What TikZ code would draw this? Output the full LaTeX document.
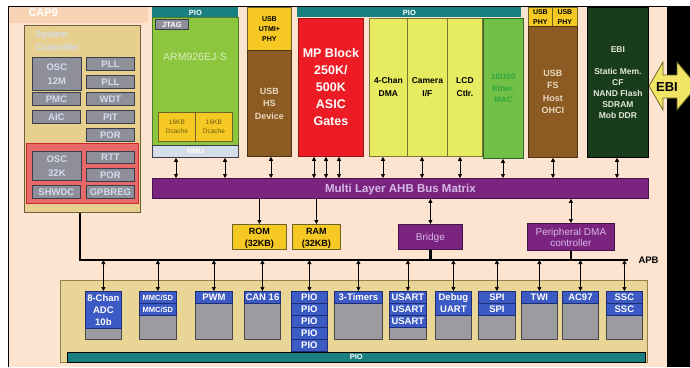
\documentclass[tikz,border=0pt]{standalone}
\usepackage{fontspec}
\setmainfont{Liberation Sans}
\usepackage{tikz}
\usetikzlibrary{arrows.meta,positioning}

\definecolor{chipbg}{RGB}{253,228,208}
\definecolor{chipedge}{RGB}{249,212,180}
\definecolor{systan}{RGB}{231,207,143}
\definecolor{sysline}{RGB}{110,95,60}
\definecolor{batred}{RGB}{232,105,105}
\definecolor{batline}{RGB}{205,40,45}
\definecolor{sgfill}{RGB}{143,143,153}
\definecolor{sgline}{RGB}{60,60,75}
\definecolor{sgtext}{RGB}{212,220,238}
\definecolor{teal}{RGB}{25,128,130}
\definecolor{armgreen}{RGB}{140,198,63}
\definecolor{armline}{RGB}{80,120,40}
\definecolor{armtext}{RGB}{218,238,190}
\definecolor{mmufill}{RGB}{212,222,232}
\definecolor{cacheyel}{RGB}{246,200,35}
\definecolor{cacheline}{RGB}{110,100,40}
\definecolor{cachetext}{RGB}{110,90,20}
\definecolor{usbbrown}{RGB}{140,90,35}
\definecolor{brownline}{RGB}{80,50,20}
\definecolor{usbtext}{RGB}{232,216,190}
\definecolor{mpred}{RGB}{237,28,36}
\definecolor{mpline}{RGB}{150,20,20}
\definecolor{dmayel}{RGB}{230,235,95}
\definecolor{dmaline}{RGB}{120,120,50}
\definecolor{ethgreen}{RGB}{115,192,70}
\definecolor{ethline}{RGB}{50,100,40}
\definecolor{ethtext}{RGB}{45,165,60}
\definecolor{ebigreen}{RGB}{25,60,28}
\definecolor{ebitext}{RGB}{225,232,215}
\definecolor{ahbpurple}{RGB}{122,36,128}
\definecolor{purline}{RGB}{70,20,75}
\definecolor{ahbtext}{RGB}{214,184,230}
\definecolor{arrowyel}{RGB}{242,228,100}
\definecolor{paneltan}{RGB}{233,214,150}
\definecolor{panelline}{RGB}{150,130,80}
\definecolor{perblue}{RGB}{60,90,195}
\definecolor{perbline}{RGB}{30,45,120}
\definecolor{pergray}{RGB}{155,155,160}
\definecolor{perline}{RGB}{70,70,75}

\tikzset{
  area/.style n args={4}{anchor=north west, at={(#1,#2)}, minimum width={(#3)-(#1)}, minimum height={(#4)-(#2)}},
  blk/.style={inner sep=0pt, align=center, line width=0.8pt, text depth=0pt},
  sgbox/.style={blk, draw=sgline, fill=sgfill, text=sgtext, font=\bfseries\fontsize{9.5}{14}\selectfont},
  piobar/.style={blk, fill=teal, text=white, font=\bfseries\fontsize{7.5}{9}\selectfont},
  armbox/.style={blk, draw=armline, fill=armgreen},
  cachebox/.style={blk, draw=cacheline, fill=cacheyel, text=cachetext, font=\fontsize{6.5}{9.5}\selectfont},
  yelbox/.style={blk, draw=cacheline, fill=cacheyel, text=black, font=\bfseries\fontsize{7}{10}\selectfont},
  membox/.style={yelbox, font=\bfseries\fontsize{9}{12}\selectfont},
  brownbox/.style={blk, draw=brownline, fill=usbbrown, text=usbtext, font=\bfseries\fontsize{9}{12.5}\selectfont},
  mpbox/.style={blk, draw=mpline, fill=mpred, text=white, font=\bfseries\fontsize{12.5}{17}\selectfont},
  dmabox/.style={blk, draw=dmaline, fill=dmayel, text=black, font=\bfseries\fontsize{8.5}{13}\selectfont},
  ethbox/.style={blk, draw=ethline, fill=ethgreen, text=ethtext, font=\bfseries\fontsize{8}{11.5}\selectfont},
  ebibox/.style={blk, draw=black, fill=ebigreen, text=ebitext, font=\bfseries\fontsize{8.5}{11}\selectfont},
  purbox/.style={blk, draw=purline, fill=ahbpurple, text=ahbtext, font=\fontsize{10}{11}\selectfont},
  perhead/.style={blk, draw=perbline, fill=perblue, text=white, font=\bfseries\fontsize{9.5}{12}\selectfont},
  perbody/.style={blk, draw=perline, fill=pergray},
  biarrow/.style={{Triangle[length=4pt,width=4pt]}-{Triangle[length=4pt,width=4pt]}, line width=0.7pt},
  downarrow/.style={-{Triangle[length=4pt,width=4pt]}, line width=0.7pt},
  apbline/.style={line width=2.5pt},
}

\begin{document}
\begin{tikzpicture}[x=1pt,y=-1pt]
\pgfmathsetmacro{\pertop}{291}
\pgfmathsetmacro{\rowh}{12}
\useasboundingbox (0,0) rectangle (690,367);
\fill[white] (0,0) rectangle (690,367);
\fill[chipbg] (8,6) rectangle (667,367);
\fill[chipedge] (9,7) rectangle (148,23);
\fill[black] (667,6) rectangle (690,367);
\draw[line width=1pt] (8,367) -- (8,6) -- (667,6);
\node[anchor=west, text=white, font=\bfseries\fontsize{11}{12}\selectfont] (cap) at (25,13) {CAP9};

% system controller
\node[blk, draw=sysline, fill=systan, area={24}{25}{140}{212}] (sysc) {};
\node[blk, draw=batline, fill=batred, area={26}{143}{138}{203}] (bkup) {};
\node[anchor=north west, align=left, text=sgtext, font=\bfseries\fontsize{9}{13}\selectfont] (syslbl) at (32,28) {System\\Controller};
\node[sgbox, area={32}{57}{81}{90}] (osc12) {OSC\\12M};
\node[sgbox, area={86}{57}{134}{70}] (plla) {PLL};
\node[sgbox, area={86}{75}{134}{88}] (pllb) {PLL};
\node[sgbox, area={32}{92}{80}{105}] (pmc) {PMC};
\node[sgbox, area={86}{92}{134}{105}] (wdt) {WDT};
\node[sgbox, area={32}{110}{80}{123}] (aic) {AIC};
\node[sgbox, area={86}{110}{134}{123}] (pit) {PIT};
\node[sgbox, area={86}{128}{134}{141}] (pora) {POR};
\node[sgbox, area={32}{151}{81}{180}] (osc32) {OSC\\32K};
\node[sgbox, area={86}{151}{134}{163}] (rtt) {RTT};
\node[sgbox, area={86}{168}{134}{181}] (porb) {POR};
\node[sgbox, area={32}{185}{80}{198}] (shwdc) {SHWDC};
\node[sgbox, area={86}{185}{134}{198}] (gpbreg) {GPBREG};

% ARM core
\node[piobar, area={152}{7}{238}{17}] (armpio) {PIO};
\node[armbox, area={152}{17}{238}{145}] (arm) {};
\node[text=armtext, font=\fontsize{10.5}{12}\selectfont] (armlbl) at (195,57) {ARM926EJ-S};
\node[sgbox, text=white, font=\bfseries\fontsize{7.5}{9}\selectfont, area={155}{19}{188}{29}] (jtag) {JTAG};
\node[cachebox, area={158}{112}{195}{141}] (icache) {16KB\\Dcache};
\node[cachebox, area={195}{112}{232}{141}] (dcache) {16KB\\Dcache};
\node[blk, draw=sgline, fill=mmufill, text=white, font=\bfseries\fontsize{7}{8}\selectfont, area={152}{145}{238}{157}] (mmu) {MMU};

% masters on top
\node[yelbox, area={247}{7}{291}{50}] (utmi) {USB\\UTMI+\\PHY};
\node[brownbox, area={247}{50}{291}{156}] (usbhs) {USB\\HS\\Device};
\node[piobar, area={297}{7}{521}{17}] (pio) {PIO};
\node[mpbox, area={298}{18}{363}{156}] (mpb) {MP Block\\250K/\\500K\\ASIC\\Gates};
\node[dmabox, area={369}{18}{407}{156}] (dma) {4-Chan\\DMA};
\node[dmabox, area={407}{18}{447}{156}] (cam) {Camera\\I/F};
\node[dmabox, area={447}{18}{482}{156}] (lcd) {LCD\\Ctlr.};
\node[ethbox, area={483}{18}{523}{158}] (eth) {10/100\\Ether.\\MAC};
\node[yelbox, area={528}{7}{552}{26}] (phya) {USB\\PHY};
\node[yelbox, area={552}{7}{577}{26}] (phyb) {USB\\PHY};
\node[brownbox, area={528}{26}{577}{157}] (usbfs) {USB\\FS\\Host\\OHCI};
\node[ebibox, area={587}{7}{648}{157}] (ebi) {EBI\\[11pt]Static Mem.\\CF\\NAND Flash\\SDRAM\\Mob DDR};

% external bus
\draw[fill=arrowyel, draw=cacheline, line width=0.8pt] (649,86) -- (663,62) -- (663,75) -- (677,75) -- (677,62)
  -- (697,86) -- (677,110) -- (677,98) -- (663,98) -- (663,110) -- cycle;
\node[font=\bfseries\fontsize{13}{14}\selectfont] (ebiext) at (667,87) {EBI};

% bus matrix
\node[purbox, font=\bfseries\fontsize{11.5}{13}\selectfont, area={152}{178}{648}{198}] (ahb) {Multi Layer AHB Bus Matrix};
\foreach \x/\blk in {176/mmu, 225/mmu, 271/usbhs, 314/mpb, 326/mpb, 339/mpb, 383/dma, 422/cam, 460/lcd, 503/eth, 553/usbfs, 617/ebi}
  \draw[biarrow] (\x,0 |- \blk.south) -- (\x,0 |- ahb.north);

\node[membox, area={232}{224}{286}{249}] (rom) {ROM\\(32KB)};
\node[membox, area={292}{224}{340}{249}] (ram) {RAM\\(32KB)};
\node[purbox, area={398}{224}{462}{249}] (bridge) {Bridge};
\node[purbox, area={527}{223}{614}{250}] (pdc) {Peripheral DMA\\controller};
\draw[downarrow] (rom.north |- ahb.south) -- (rom.north);
\draw[downarrow] (ram.north |- ahb.south) -- (ram.north);
\draw[biarrow] (bridge.north |- ahb.south) -- (bridge.north);
\draw[biarrow] (pdc.north |- ahb.south) -- (pdc.north);

% APB
\coordinate (apbend) at (628,260);
\draw[apbline] (80,0 |- sysc.south) |- (apbend);
\draw[apbline] (bridge.south) -- (bridge.south |- apbend);
\draw[apbline] (pdc.south) -- (pdc.south |- apbend);
\node[anchor=west, font=\bfseries\fontsize{9.5}{10}\selectfont] (apb) at (635,260) {APB};

% peripherals
\node[blk, draw=panelline, fill=paneltan, area={60}{280}{647}{362}] (panel) {};
\node[piobar, draw=black, line width=0.5pt, area={67}{352}{645}{362}] (ppio) {PIO};
\foreach \nm/\xa/\xb in {adc/85/121, mmc/139/176, pwm/195/232, can/244/280, tim/334/382, usart/389/426,
    dbgu/435/471, spi/478/515, twi/521/557, ac97/562/598, ssc/606/642}
  \node[perbody, area={\xa}{\pertop}{\xb}{339}] (\nm) {};
\node[perhead, area={85}{\pertop}{121}{328}] (adc-hd) {8-Chan\\ADC\\10b};
\node[perhead, area={435}{\pertop}{471}{315}] (dbgu-hd) {Debug\\UART};
\foreach \nm/\xa/\xb/\txt in {pwm/195/232/PWM, can/244/280/CAN 16, tim/334/382/3-Timers, twi/521/557/TWI, ac97/562/598/AC97}
  \node[perhead, area={\xa}{\pertop}{\xb}{\pertop+\rowh}] (\nm-hd) {\txt};
\foreach \r in {0,1} {
  \node[perhead, font=\bfseries\fontsize{7.5}{8}\selectfont, area={139}{\pertop+\r*\rowh}{176}{\pertop+(\r+1)*\rowh}] (mmc-\r) {MMC/SD};
  \node[perhead, area={478}{\pertop+\r*\rowh}{515}{\pertop+(\r+1)*\rowh}] (spi-\r) {SPI};
  \node[perhead, area={606}{\pertop+\r*\rowh}{642}{\pertop+(\r+1)*\rowh}] (ssc-\r) {SSC};
}
\foreach \r in {0,1,2}
  \node[perhead, area={389}{\pertop+\r*\rowh}{426}{\pertop+(\r+1)*\rowh}] (usart-\r) {USART};
\foreach \r in {0,...,4}
  \node[perhead, area={291}{\pertop+\r*\rowh}{327}{\pertop+(\r+1)*\rowh}] (pio-\r) {PIO};
\foreach \nm in {adc, mmc, pwm, can, pio-0, tim, usart, dbgu, spi, twi, ac97, ssc}
  \draw[biarrow] (\nm.north |- apbend) -- (\nm.north);
\end{tikzpicture}
\end{document}
